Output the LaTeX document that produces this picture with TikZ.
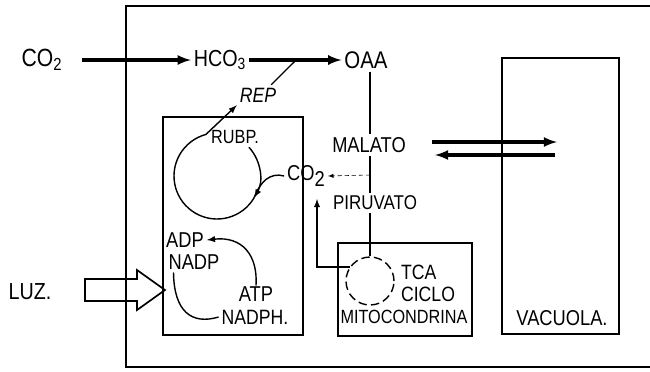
\documentclass[tikz,border=0pt]{standalone}
\usepackage{fontspec}
\setmainfont{Liberation Sans}[FakeStretch=0.85]
\usetikzlibrary{positioning, arrows, arrows.meta}
\tikzset{>=latex}
\tikzset{
    metab/.style = {inner sep=2pt, align=center},
    compart/.style = {rectangle, draw, line width=1.1pt, inner sep=0pt},
    flow/.style = {->, line width=2.2pt},
    path/.style = {line width=1pt}
}

\begin{document}
\begin{tikzpicture}[x=0.25mm, y=-0.25mm]
			\tikzstyle{every node}=[font=\fontsize{15.3}{17}\selectfont]
			\useasboundingbox (0,0) rectangle (650,371);
			% celula y compartimentos
			\draw [line width=1.2pt] (650,6) -- (126,6) -- (126,367) -- (650,367);
			\node (cloro) [compart, minimum width=35mm, minimum height=54.5mm] at (233,226) {};
			\node (mito) [compart, minimum width=33.5mm, minimum height=23.25mm] at (405,289.5) {};
			\node (vac) [compart, minimum width=29.25mm, minimum height=69mm] at (560.5,196) {};
			\node (vaclbl) [metab] at (562,318) {VACUOLA.};
			% fijacion de CO2
			\node (co2in) [metab, font=\fontsize{17.7}{20}\selectfont] at (42,60) {CO\textsubscript{2}};
			\node (hco3) [metab, font=\fontsize{16.5}{19}\selectfont] at (220,60) {HCO\textsubscript{3}};
			\node (oaa) [metab, font=\fontsize{17.1}{19}\selectfont] at (366,60) {OAA};
			\node (rep) [metab, font=\fontsize{14.75}{17}\selectfont\itshape] at (258,95) {REP};
			\coordinate (j1) at (295,61);
			\draw [flow, shorten <=12pt] (co2in) -- (hco3);
			\draw [flow] (hco3) -- (oaa);
			\draw [path] ([xshift=-2mm]rep.north east) -- (j1);
			% ciclo de Calvin
			\node (rubp) [metab, font=\fontsize{13.6}{16}\selectfont] at (235,137) {RUBP.};
			\node (co2m) [metab] at (306,176) {CO\raisebox{-0.55ex}{2}};
			\coordinate (cc) at (217,176);
			\coordinate (arcpt) at ([shift={(30:43)}]cc);
			\draw [path, ->] ([shift={(-42:43)}]cc) arc (-42:30:43);
			\draw [path, ->] (arcpt) arc (30:255:43) -- (rep.south west);
			\draw [path] (co2m.west) .. controls (270,172) and (260,182) .. (arcpt);
			% fase luminosa
			\node (adp) [metab] at (185,240) {ADP};
			\node (nadp) [metab] at (194,262) {NADP};
			\node (atp) [metab] at (256,294) {ATP};
			\node (nadph) [metab, font=\fontsize{14.75}{17}\selectfont] at (255,317) {NADPH.};
			\draw [path, ->] ([yshift=-0.5mm]atp.north) .. controls (258,255) and (242,236) .. (adp.east);
			\draw [path] ([xshift=2mm]nadp.south west) .. controls (174,312) and (192,325) .. (nadph.west);
			\node (luz) [metab, font=\fontsize{16.5}{19}\selectfont] at (30,292) {LUZ.};
			\draw [line width=1.2pt] (85,279) -- (137,279) -- (137,270) -- (165,290) -- (137,310) -- (137,301) -- (85,301) -- cycle;
			% malato y piruvato
			\node (malato) [metab] at (369,145) {MALATO};
			\node (piruvato) [metab, font=\fontsize{14.2}{16}\selectfont] at (375,203) {PIRUVATO};
			\coordinate (j2) at (370,175);
			\draw [path] (oaa.south -| j2) -- (malato.north -| j2);
			\draw [path] (malato.south -| j2) -- (piruvato.north -| j2);
			\draw [->, dash pattern=on 3pt off 2pt] (j2) -- (co2m.east);
			\coordinate (mal1) at (432,142);
			\coordinate (vac1) at (557,142);
			\coordinate (vac2) at (555,155);
			\coordinate (mal2) at (435,155);
			\draw [flow] (mal1) -- (vac1);
			\draw [flow] (vac2) -- (mal2);
			% mitocondria
			\node (ciclo) [circle, draw, line width=1pt, dash pattern=on 6pt off 3pt, minimum size=12mm, inner sep=0pt] at (370,281) {};
			\node (tca) [metab, anchor=west, font=\fontsize{14.75}{17}\selectfont] at (398,272) {TCA};
			\node (cicl) [metab, anchor=west, font=\fontsize{14.75}{17}\selectfont] at (398,294) {CICLO};
			\node (mitoc) [metab, font=\fontsize{13.6}{16}\selectfont] at (404,317) {MITOCONDRINA};
			\coordinate (co2up) at (317,199);
			\draw [path] (piruvato.south -| j2) -- (ciclo.north);
			\draw [path, ->] (ciclo.145) -| (co2up);
		\end{tikzpicture}
\end{document}
